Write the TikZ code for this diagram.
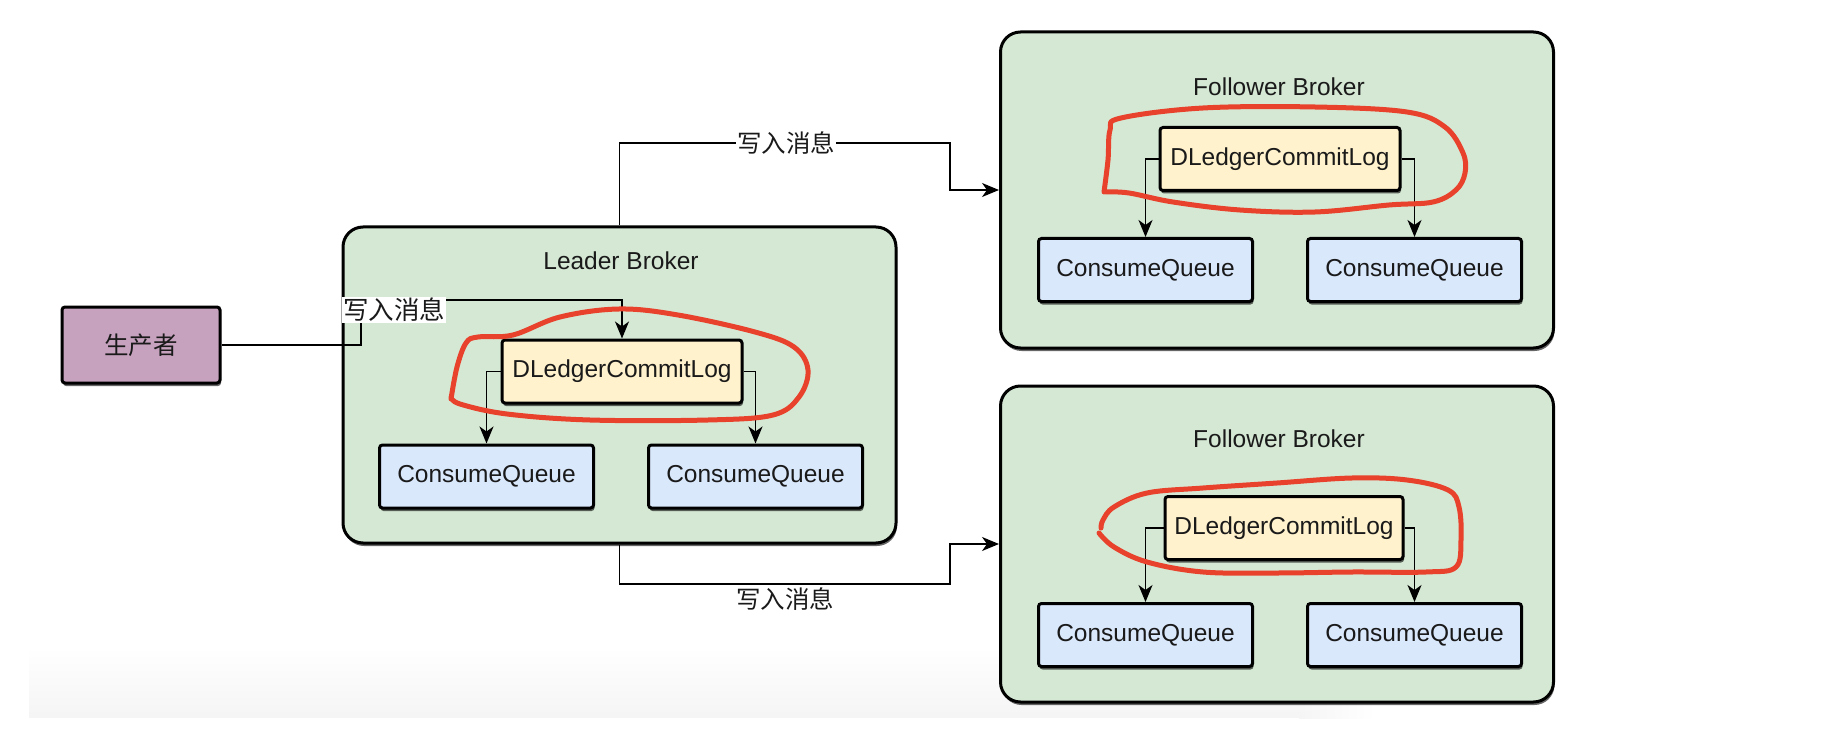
\documentclass[tikz,border=0pt]{standalone}
\usepackage{fontspec}
\setmainfont{Liberation Sans}
\newfontfamily\cjk{Noto Sans CJK SC}
\usetikzlibrary{arrows.meta,shadows,fadings}
\definecolor{brokerfill}{HTML}{D5E8D4}
\definecolor{ledgerfill}{HTML}{FFF2CC}
\definecolor{cqfill}{HTML}{DAE8FC}
\definecolor{prodfill}{HTML}{C6A2BE}
\definecolor{redpen}{HTML}{E8412C}
\definecolor{txt}{HTML}{1A1A1A}
\tikzset{
  box/.style={draw=black, line width=3pt, rounded corners=3pt,
    drop shadow={shadow xshift=1pt,shadow yshift=-3pt,fill=black,opacity=0.6},
    font=\fontsize{24.5}{29}\selectfont, text=txt, inner sep=0pt},
  broker/.style={box, fill=brokerfill, rounded corners=20pt, minimum width=553pt, minimum height=316pt},
  ledger/.style={box, fill=ledgerfill, minimum width=240pt, minimum height=63pt},
  cq/.style={box, fill=cqfill, minimum width=214pt, minimum height=63pt},
  prodbox/.style={box, fill=prodfill, minimum width=158pt, minimum height=76pt, font=\cjk\fontsize{24.5}{29}\selectfont},
  title/.style={font=\fontsize{24.5}{29}\selectfont, text=txt, inner sep=0pt},
  lbl/.style={font=\cjk\fontsize{24.5}{29}\selectfont, text=txt, inner sep=1pt},
  conn/.style={line width=1.5pt, -{Stealth[length=17pt,width=14pt,inset=5pt]}},
  pen/.style={draw=redpen, line width=5pt, line cap=round, line join=round},
}
\begin{document}
\begin{tikzpicture}[x=1pt,y=-1pt]
\useasboundingbox (0,0) rectangle (1842,746);
\fill[white] (0,0) rectangle (1842,746);
\fill[black!4, path fading=north] (29,650) rectangle (1300,718);
\shade[left color=black!4, right color=white, path fading=north] (1299,650) rectangle (1375,718);

% brokers
\node[broker] (leader) at (619.5,385) {};
\node[broker] (f1) at (1277,190) {};
\node[broker] (f2) at (1277,544) {};

\node[title] (lt) at (621,261) {Leader Broker};
\node[title] (f1t) at (1279,87) {Follower Broker};
\node[title] (f2t) at (1279,439) {Follower Broker};

% producer
\node[prodbox] (prod) at (141,345) {生产者};

% leader internals
\node[ledger] (lled) at (622,371.5) {DLedgerCommitLog};
\node[cq] (lcq1) at (486.5,476.5) {ConsumeQueue};
\node[cq] (lcq2) at (755.5,476.5) {ConsumeQueue};

% follower 1 internals
\node[ledger] (aled) at (1280,159) {DLedgerCommitLog};
\node[cq] (acq1) at (1145.5,270) {ConsumeQueue};
\node[cq] (acq2) at (1414.5,270) {ConsumeQueue};

% follower 2 internals
\node[ledger, minimum width=238pt] (bled) at (1284,528) {DLedgerCommitLog};
\node[cq] (bcq1) at (1145.5,635) {ConsumeQueue};
\node[cq] (bcq2) at (1414.5,635) {ConsumeQueue};

% internal connectors
\draw[conn] (lled.west) -| (lcq1.north);
\draw[conn] (lled.east) -| (lcq2.north);
\draw[conn] (aled.west) -| (acq1.north);
\draw[conn] (aled.east) -| (acq2.north);
\draw[conn] (bled.west) -| (bcq1.north);
\draw[conn] (bled.east) -| (bcq2.north);

% outer connectors
\coordinate (c1) at (361,300);
\coordinate (c2) at (950,143);
\coordinate (c3) at (950,584);
\draw[conn] (prod.east) -| (c1) -| (lled.north);
\draw[conn] (leader.north) |- (c2) |- (f1.west);
\draw[conn] (leader.south) |- (c3) |- (f2.west);
\node[lbl, fill=white, font=\cjk\fontsize{25.5}{30}\selectfont] (l1) at (394,310) {写入消息};
\node[lbl, fill=white] (l2) at (786,143) {写入消息};
\node[lbl] (l3) at (785,599) {写入消息};

% red pen loops
\draw[pen] plot[smooth, tension=0.6] coordinates {
 (451,399) (457,367) (466,343) (478,337) (513,335) (560,317) (619,309)
 (678,315) (755,332) (794,347) (808,370) (799,397) (773,415) (708,420)
 (590,420) (507,414) (460,404) (451,397)};
\draw[pen] plot[smooth, tension=0.6] coordinates {
 (1104,192) (1108,160) (1110,130) (1121,118) (1203,108) (1315,107)
 (1407,112) (1445,127) (1463,153) (1465,173) (1456,190) (1433,202)
 (1389,205) (1315,212) (1240,210) (1173,202) (1129,193) (1106,192)};
\draw[pen] plot[smooth, tension=0.6] coordinates {
 (1101,528) (1103,520) (1114,507) (1147,493) (1203,488) (1277,483)
 (1352,478) (1407,480) (1448,490) (1459,507) (1461,540) (1456,567)
 (1426,572) (1352,572) (1277,573) (1203,572) (1147,562) (1114,547) (1099,533)};
\end{tikzpicture}
\end{document}
